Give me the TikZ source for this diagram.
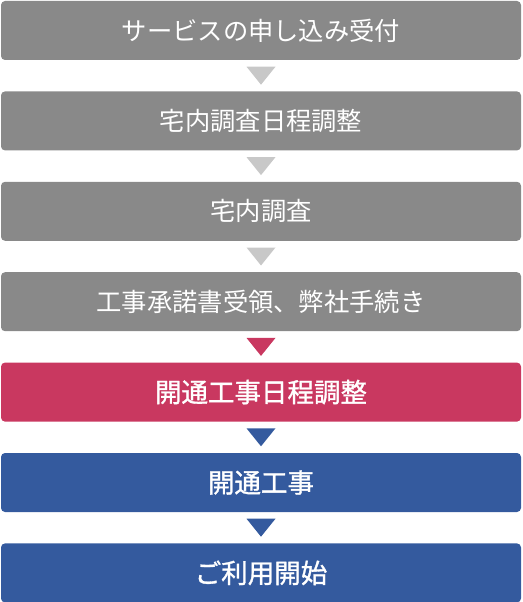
\documentclass[tikz,border=0pt]{standalone}
\usepackage{fontspec}
\setmainfont{Noto Sans CJK JP}
\newfontfamily\hotfont[FakeBold=1.2]{Noto Sans CJK JP}
\usetikzlibrary{positioning,calc}

\definecolor{boxgray}{HTML}{898989}
\definecolor{tipgray}{HTML}{C8C8C8}
\definecolor{boxred}{HTML}{C93860}
\definecolor{boxblue}{HTML}{345A9E}

\begin{document}
\begin{tikzpicture}[x=1pt,y=1pt, node distance=31pt,
  stage/.style={rectangle, rounded corners=4pt, inner sep=0pt,
    minimum width=520pt, minimum height=59pt, text=white,
    font=\fontsize{25.3}{25.3}\selectfont},
  hot/.style={stage, font=\hotfont\fontsize{26.5}{26.5}\selectfont}]
  \useasboundingbox (0,0) rectangle (522,-602);

  \node[stage, fill=boxgray] (S1) at (261,-30.5)  {サービスの申し込み受付};
  \node[stage, fill=boxgray] (S2) [below=of S1]   {宅内調査日程調整};
  \node[stage, fill=boxgray] (S3) [below=of S2]   {宅内調査};
  \node[stage, fill=boxgray] (S4) [below=of S3]   {工事承諾書受領、弊社手続き};
  \node[hot,   fill=boxred]  (S5) [below=of S4]   {開通工事日程調整};
  \node[hot,   fill=boxblue] (S6) [below=of S5]   {開通工事};
  \node[hot,   fill=boxblue] (S7) [below=of S6]   {ご利用開始};

  % down markers between the stages
  \foreach \a/\b/\c in {S1/S2/tipgray, S2/S3/tipgray, S3/S4/tipgray,
                        S4/S5/boxred, S5/S6/boxblue, S6/S7/boxblue}
    \fill[\c] ($(\a.south)!.5!(\b.north)$) ++(-14.5,9) -- ++(29,0) -- ++(-14.5,-18) -- cycle;
\end{tikzpicture}
\end{document}
